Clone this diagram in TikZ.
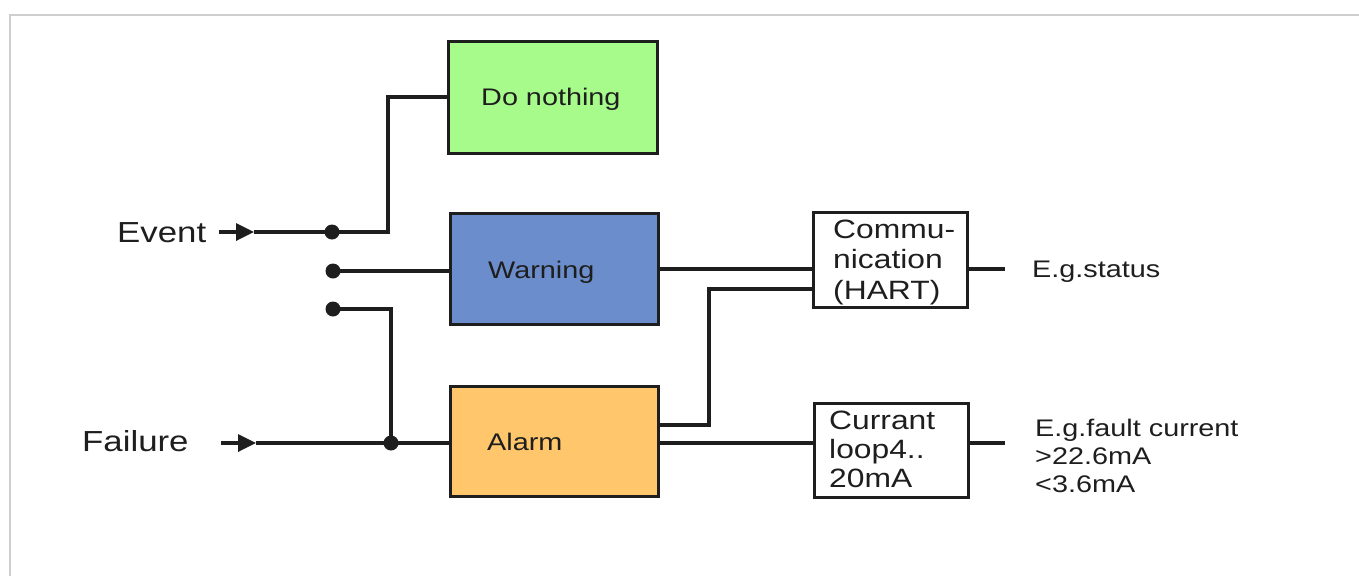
\documentclass[tikz,border=0pt]{standalone}
\usepackage{fontspec}
\setmainfont{Liberation Sans}
\usetikzlibrary{arrows.meta}
\definecolor{boxgreen}{HTML}{A6FB8B}
\definecolor{boxblue}{HTML}{6B8DCB}
\definecolor{boxorange}{HTML}{FFC66B}
\definecolor{txt}{HTML}{1E1E1E}
\definecolor{frame}{HTML}{CFCFCF}
\newcommand\stretchtxt[1]{\scalebox{1.2}[1]{#1}}
\begin{document}
\begin{tikzpicture}[x=1pt,y=-1pt,
  wire/.style={line width=3.4pt, txt},
  arr/.style={wire, -{Triangle[length=18pt,width=17pt]}},
  blk/.style={draw=txt, line width=3.4pt, inner sep=0pt},
  jdot/.style={circle, fill=txt, inner sep=0pt, minimum size=15pt},
  txtnode/.style={inner sep=0pt, anchor=base west, text=txt, align=left},
  big/.style={txtnode, font=\fontsize{29}{30}\selectfont},
  boxt/.style={txtnode, font=\fontsize{24}{26}\selectfont},
  commt/.style={txtnode, font=\fontsize{26.5}{30.5}\selectfont},
  currt/.style={txtnode, font=\fontsize{26.5}{29}\selectfont},
  outt/.style={txtnode, font=\fontsize{24}{28}\selectfont},
]
\useasboundingbox (0,0) rectangle (1359,576);
\draw[frame, line width=2pt] (10,576) -- (10,14.5) -- (1359,14.5);

% boxes
\node[blk, fill=boxgreen, minimum width=209pt, minimum height=112pt] (dn) at (553,97.5) {};
\node[blk, fill=boxblue, minimum width=208pt, minimum height=111pt] (wa) at (554.5,269) {};
\node[blk, fill=boxorange, minimum width=208pt, minimum height=110pt] (al) at (554.5,441.5) {};
\node[blk, fill=white, minimum width=154pt, minimum height=95pt] (cm) at (890.5,260) {};
\node[blk, fill=white, minimum width=154pt, minimum height=94pt] (cl) at (891.5,450.5) {};

% box texts
\node[boxt] (tdn) at (481,105.5) {\stretchtxt{Do nothing}};
\node[boxt] (twa) at (488,278) {\stretchtxt{Warning}};
\node[boxt] (tal) at (487,450) {\stretchtxt{Alarm}};
\node[commt] (tcm) at (833,299) {\stretchtxt{Commu-}\\\stretchtxt{nication}\\\stretchtxt{(HART)}};
\node[currt] (tcl) at (829,487) {\stretchtxt{Currant}\\\stretchtxt{loop4..}\\\stretchtxt{20mA}};

% input labels
\node[big] (ev) at (117,242.5) {\stretchtxt{Event}};
\node[big] (fa) at (82,451.5) {\stretchtxt{Failure}};

% output labels
\node[outt] (os) at (1032,277) {\stretchtxt{E.g.status}};
\node[outt] (of) at (1035,492) {\stretchtxt{E.g.fault current}\\\stretchtxt{>22.6mA}\\\stretchtxt{<3.6mA}};

% dots
\node[jdot] (d1) at (332,232) {};
\node[jdot] (d2) at (333,271) {};
\node[jdot] (d3) at (333,309) {};
\node[jdot] (j) at (391,443) {};

% coordinates
\coordinate (evs) at (219,232);
\coordinate (evt) at (254,232);
\coordinate (fas) at (221,443);
\coordinate (fat) at (256,443);
\coordinate (k1) at (388,97);
\coordinate (k2) at (709,289);
\coordinate (e1) at (1005,269);
\coordinate (e2) at (1005,443);

% wires
\draw[arr] (evs) -- (evt);
\draw[wire] (evt) -- (d1.center);
\draw[wire] (d1.center) -| (k1) -- (dn.west |- k1);
\draw[wire] (d2.center) -- (d2 -| wa.west);
\draw[wire] (d3.center) -| (j.center);
\draw[arr] (fas) -- (fat);
\draw[wire] (fat) -- (j.center) -- (j -| al.west);
\draw[wire] (wa.east |- e1) -- (cm.west |- e1);
\draw[wire] (al.east |- 0,425) -| (k2) -- (cm.west |- k2);
\draw[wire] (al.east |- e2) -- (cl.west |- e2);
\draw[wire] (cm.east |- e1) -- (e1);
\draw[wire] (cl.east |- e2) -- (e2);
\end{tikzpicture}
\end{document}
